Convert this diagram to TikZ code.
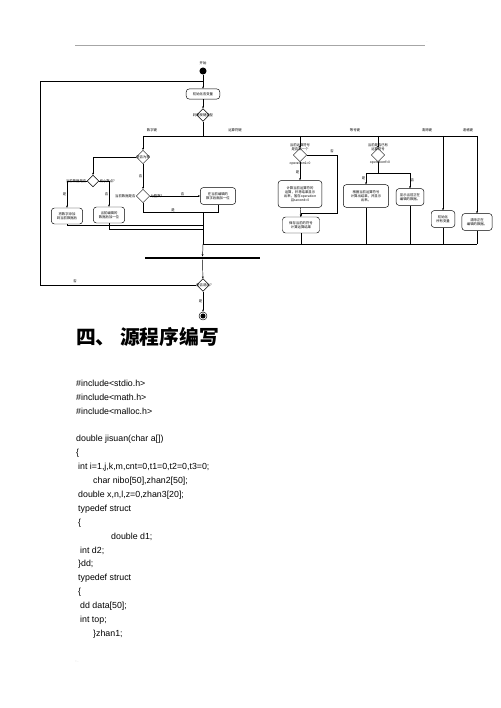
\documentclass[tikz,border=0pt]{standalone}
\usepackage{fontspec}
\setmainfont{Liberation Sans}
\newfontfamily\cjk{Noto Sans CJK SC}
\usetikzlibrary{shapes.geometric,arrows.meta}
\newcommand\flowfont{\cjk\fontsize{4}{4.8}\selectfont}
\newcommand\codefont{\fontsize{10.5}{12}\selectfont}
\begin{document}
\begin{tikzpicture}[x=1.19pt,y=-1.19pt,line width=0.55pt,
  act/.style={draw,rounded corners=3.5pt,align=center,inner sep=0.6pt,font=\flowfont},
  dec/.style={draw,diamond,aspect=1,inner sep=0pt,minimum size=16pt},
  tx/.style={font=\flowfont,inner sep=0.5pt,align=center},
  arr/.style={-{Stealth[length=2.6pt,width=2.2pt]}},
  code/.style={anchor=west,inner sep=0pt,font=\codefont}]
\useasboundingbox (0,0) rectangle (500,708);
% kopregel
\draw[gray!70,line width=0.5pt] (75,45) -- (425,45);
\node[tx,gray] (dot) at (427,42) {.};
% start
\node[tx] (lstart) at (203,63) {开始};
\node[circle,fill,inner sep=0pt,minimum size=8.4pt] (start) at (203,71) {};
\coordinate (back) at (203,81);
\node[act,minimum width=40pt,minimum height=12pt] (init) at (203,94) {初始化各变量};
\draw (start) -- (back);\draw[arr] (back) -- (init);
\node[dec,minimum size=15pt] (d0) at (203,115) {};\node[tx] at (d0) {判断按键类型};
\draw[arr] (init) -- (d0);
\coordinate (k0) at (203,136);\coordinate (kn) at (143,136);\coordinate (ko) at (300,136);
\coordinate (ke) at (378,136);\coordinate (kc) at (443,136);\coordinate (kb) at (477,136);
\draw (d0) -- (k0);\draw (kn) -- (kb);
\node[tx] at (152,130) {数字键};\node[tx] at (235,130) {运算符键};
\node[tx] at (355,130) {等号键};\node[tx] at (427,130) {清除键};\node[tx] at (468,130) {退格键};
% cijfertoets
\node[dec] (d1) at (143,157) {};\node[tx] at (d1) {是否为零};
\draw[arr] (kn) -- (d1);
\node[dec,minimum size=14pt] (d2) at (93,181) {};
\node[tx,anchor=east] at (d2.west) {当前数据是否};\node[tx,anchor=west] at (d2.east) {有小数点?};
\draw[arr] (d1.west) -| (d2.north);
\node[act,minimum width=37pt,minimum height=19pt] (b1) at (67,216) {将数字添加\\到当前数据后};
\node[act,minimum width=37pt,minimum height=19pt] (b2) at (109,215) {当前编辑的\\数据后加一位};
\draw[arr] (d2.west) -| (b1.north) node[tx,pos=0.75,left] {是};
\draw[arr] (d2.east) -| (b2.north) node[tx,pos=0.75,left] {否};
\node[dec] (d3) at (143,196) {};
\node[tx,anchor=east] at (d3.west) {当前数据是否};\node[tx,anchor=west] at (d3.east) {为整数?};
\draw[arr] (d1) -- (d3) node[tx,midway,left] {否};
\node[act,minimum width=42pt,minimum height=20pt] (b3) at (218,196) {在当前编辑的\\数字后面加一位};
\draw[arr] (d3.east) -- (b3.west) node[tx,pos=0.65,above] {否};
\coordinate (j1) at (203,212);\coordinate (j2) at (203,225);
\coordinate (j3) at (203,229);\coordinate (j4) at (203,244);
\draw (d3.south) |- (j1) node[tx,pos=0.75,above] {是};
\draw (b3.south) |- (j1);
\draw (b1.south) |- (j2);
\draw (b2.south) |- (j3);
\draw (j1) -- (j4);
% operatortoets
\node[dec] (d4) at (300,155) {};
\node[tx] at (300,147) {当前运算符号\\是否第一个};\node[tx] at (300,164) {operation1=0};
\draw[arr] (ko) -- (d4);
\node[act,minimum width=52pt,minimum height=32pt] (b4) at (300,194) {计算当前运算符的\\运算，并将结果显示\\出来，暂存operation\\且second=0};
\node[act,minimum width=44pt,minimum height=19pt] (b5) at (301,225) {保存当前的符号\\计算运算结果};
\draw[arr] (d4) -- (b4) node[tx,pos=0.55,left] {是};
\draw[arr] (b4) -- (b5);
\draw[arr] (d4.east) -| (337,213) -| (b5.north);
\node[tx] at (332,151) {否};
\draw (b5.south) -- (b5.south |- j4);
% gelijktoets
\node[dec] (d5) at (378,155) {};
\node[tx] at (378,147) {当前是否已有\\运算符号};\node[tx] at (380,163) {operationf=0};
\draw[arr] (ke) -- (d5);
\coordinate (e1) at (378,173);
\draw (d5) -- (e1);
\node[act,minimum width=54pt,minimum height=27pt] (b6) at (366,196) {根据当前运算符号\\计算出结果，并显示\\出来。};
\node[act,minimum width=33pt,minimum height=20pt] (b7) at (410,197) {显示当前正在\\编辑的数据。};
\draw[arr] (e1) -| (b6.north) node[tx,pos=0.75,left] {是};
\draw[arr] (e1) -| (b7.north) node[tx,pos=0.75,right] {否};
\draw (b6.south) -- (b6.south |- j4);
\draw (b7.south) -- (b7.south |- j4);
% wissen en terug
\node[act,minimum width=28pt,minimum height=20pt] (b8) at (443,219) {初始化\\所有变量};
\node[act,minimum width=36pt,minimum height=20pt] (b9) at (477,222) {清除正在\\编辑的数据。};
\draw[arr] (kc) -- (b8);\draw[arr] (kb) -- (b9);
\draw (b8.south) -- (b8.south |- j4);
\draw (b9.south) -- (b9.south |- j4);
% samenkomst
\coordinate (j5) at (477,244);
\draw[line width=1.1pt] (j4) -- (j5);
\node[fill,inner sep=0pt,minimum width=137pt,minimum height=3.2pt] (bar) at (202.5,258) {};
\draw[arr] (j4) -- (bar);
\node[dec,minimum size=15pt] (d6) at (203,285) {};\node[tx] at (d6) {是否退出};
\node[tx,anchor=west] at (d6.east) {?};
\draw[arr] (bar) -- (d6);
\draw (d6.west) -- (40,285) -- (40,81) -- (back);
\node[tx] at (75,281) {否};
\node[circle,draw,inner sep=0pt,minimum size=9.5pt] (end) at (203,316) {};
\node[circle,fill,inner sep=0pt,minimum size=6pt] (endin) at (end) {};
\draw[arr] (d6) -- (end) node[tx,midway,left] {是};
% kop en code
\node[anchor=west,inner sep=0pt,font=\cjk\bfseries\fontsize{23.5}{26}\selectfont] (title) at (76,337) {四、 源程序编写};
\node[code] (c1) at (76,383) {\#include<stdio.h>};
\node[code] (c2) at (76,397) {\#include<math.h>};
\node[code] (c3) at (76,411) {\#include<malloc.h>};
\node[code] (c4) at (76,439) {double jisuan(char a[])};
\node[code] (c5) at (76,453) {\{};
\node[code] (c6) at (78,467) {int i=1,j,k,m,cnt=0,t1=0,t2=0,t3=0;};
\node[code] (c7) at (93,481) {char nibo[50],zhan2[50];};
\node[code] (c8) at (78,495) {double x,n,l,z=0,zhan3[20];};
\node[code] (c9) at (78,509) {typedef struct};
\node[code] (c10) at (78,523) {\{};
\node[code] (c11) at (111,537) {double d1;};
\node[code] (c12) at (80,551) {int d2;};
\node[code] (c13) at (78,564) {\}dd;};
\node[code] (c14) at (78,578) {typedef struct};
\node[code] (c15) at (78,592) {\{};
\node[code] (c16) at (80,606) {dd data[50];};
\node[code] (c17) at (80,620) {int top;};
\node[code] (c18) at (93,634) {\}zhan1;};
\node[tx,gray,anchor=west] (foot) at (75,662) {: .};
\end{tikzpicture}
\end{document}
